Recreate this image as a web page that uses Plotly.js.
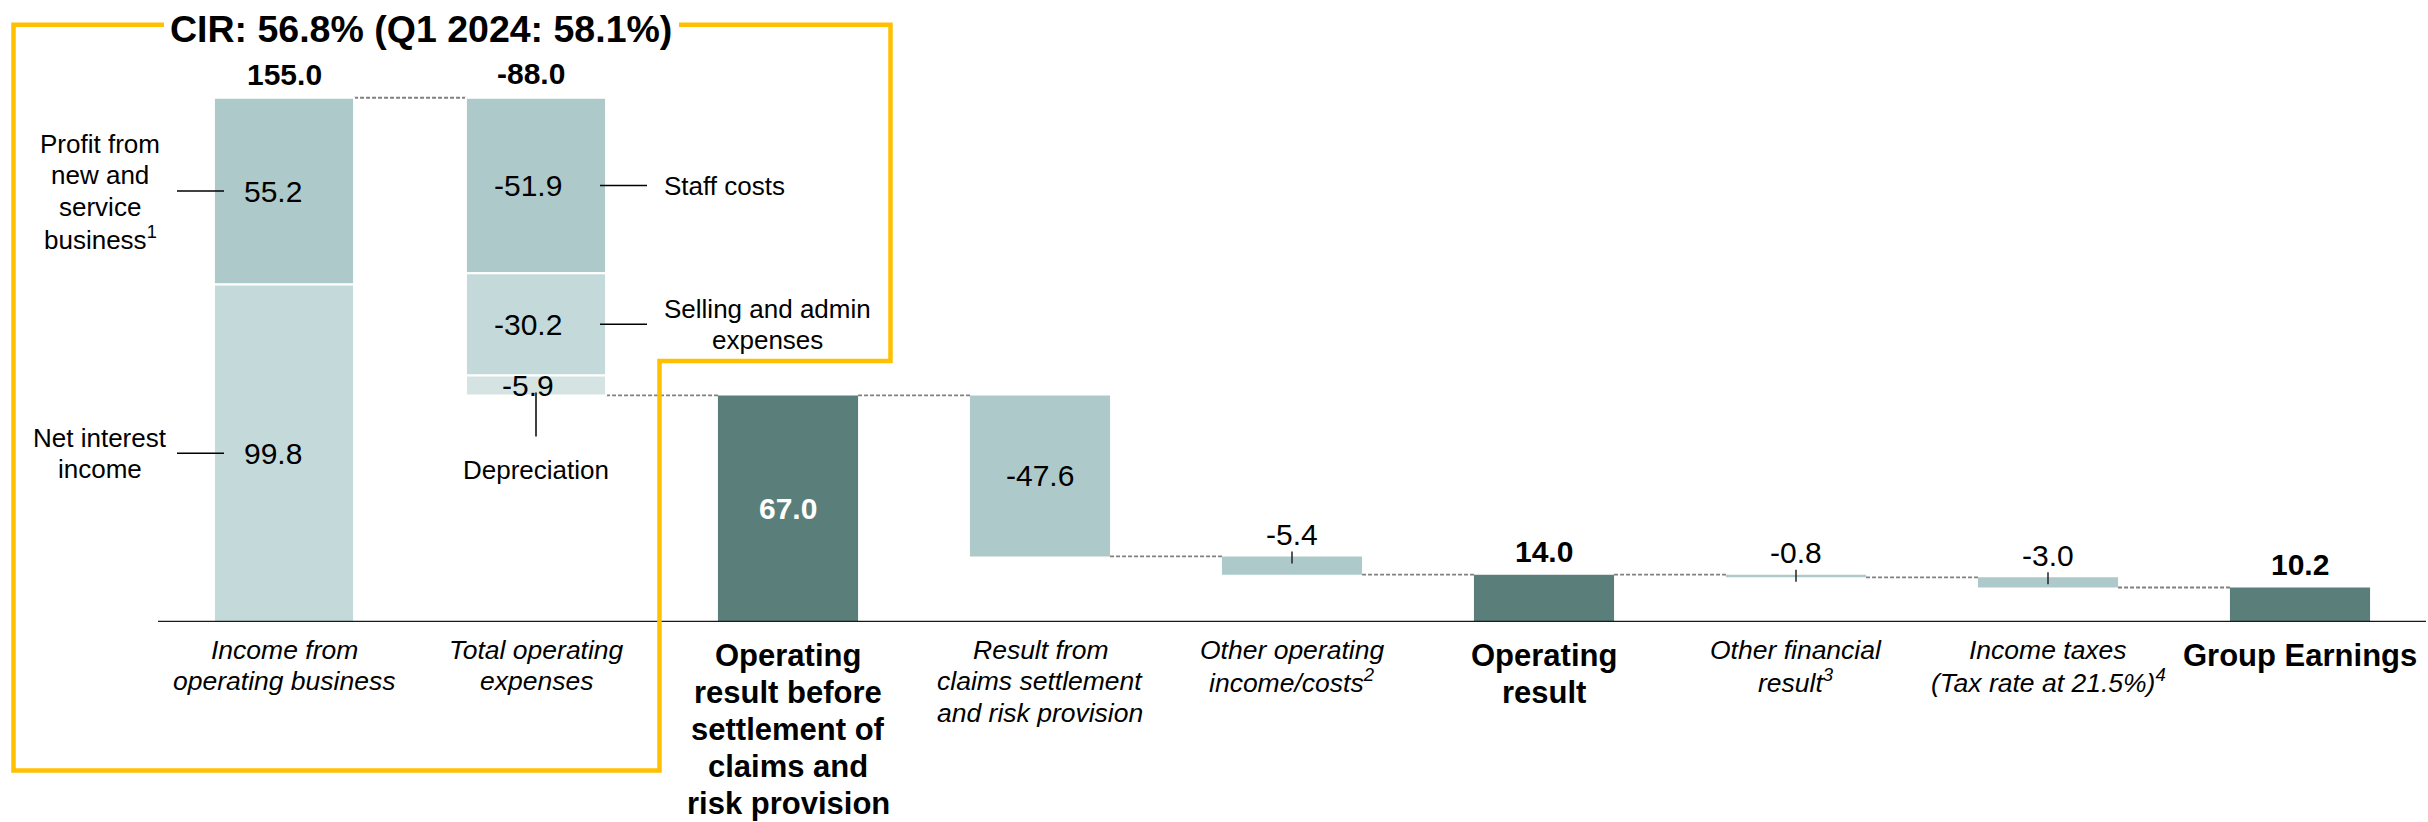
<!DOCTYPE html>
<html>
<head>
<meta charset="utf-8">
<script src="https://cdn.plot.ly/plotly-3.0.1.min.js"></script>
<style>html,body{margin:0;padding:0;background:#fff;}#chart{width:2428px;height:822px;}</style>
</head>
<body>
<div id="chart"></div>
<script>
(function () {
// ---------------- DATA ----------------
const categories = [
  'Income from<br>operating business',
  'Total operating<br>expenses',
  'Operating<br>result before<br>settlement of<br>claims and<br>risk provision',
  'Result from<br>claims settlement<br>and risk provision',
  'Other operating<br>income/costs<sup>2</sup>',
  'Operating<br>result',
  'Other financial<br>result<sup>3</sup>',
  'Income taxes<br>(Tax rate at 21.5%)<sup>4</sup>',
  'Group Earnings'
];
const stepValues = [155.0, -88.0, 67.0, -47.6, -5.4, 14.0, -0.8, -3.0, 10.2];
const stepKinds  = ['start', 'delta', 'total', 'delta', 'delta', 'total', 'delta', 'delta', 'total'];

const incomePartNames  = ['Net interest<br>income', 'Profit from<br>new and<br>service<br>business<sup>1</sup>'];
const incomePartValues = [99.8, 55.2];
const expensePartNames  = ['Staff costs', 'Selling and admin<br>expenses', 'Depreciation'];
const expensePartValues = [-51.9, -30.2, -5.9];

const cirText = 'CIR: 56.8% (Q1 2024: 58.1%)';

// ---------------- STYLE ----------------
const FONT = 'Liberation Sans, Arial, Helvetica, sans-serif';
const C_DARK = '#5a7f7a', C_MID = '#adc9c9', C_LIGHT = '#c4dada', C_LIGHTEST = '#d5e4e3';
const GOLD = '#ffc000';
const BW = 0.556;
const WIDTH = 2428, HEIGHT = 822;
const L = 158, R = 2426, T = 47, B = 622;
const YMAX = 170;
const SIDE_SIZE = 26, SIDE_LH = 31.3;
const IT_SIZE = 26.5, IT_LH = 31.3;
const BOLD_SIZE = 31, BOLD_LH = 37;
const VAL_SIZE = 30;
const px = x => (x - L) / (R - L);
const py = y => (B - y) / (B - T);
const r1 = v => Math.round(v * 10) / 10;

// ---------------- COMPUTE ----------------
const levels = [];
let running = 0;
stepValues.forEach((v, i) => {
  if (stepKinds[i] === 'delta') running = r1(running + v); else running = v;
  levels.push(running);
});

const dark = {x: [], base: [], y: []};
const mid = {x: [], base: [], y: [], lw: []};
const light = {x: [], base: [], y: []};
const lightest = {x: [], base: [], y: []};
const annotations = [];
const shapes = [];

function valueAnn(x, y, text, opts) {
  opts = opts || {};
  annotations.push(Object.assign({
    x: x, y: y, xref: 'x', yref: 'y', text: text, showarrow: false,
    xanchor: 'center', yanchor: 'middle',
    font: {family: FONT, size: VAL_SIZE, color: opts.color || '#000'}
  }, opts.extra || {}));
}

// multi-line text with controlled line spacing; mode 'center' = block centred on y, 'top' = first line at y
function multiLine(text, base, spacing, font, mode, xanchor) {
  const lines = text.split('<br>');
  const n = lines.length;
  lines.forEach((ln, k) => {
    const shift = mode === 'center' ? ((n - 1) / 2 - k) * spacing : -k * spacing;
    annotations.push(Object.assign({}, base, {
      text: ln, showarrow: false, xanchor: xanchor || 'center', yanchor: 'middle',
      yshift: (base.yshift || 0) + shift, font: font
    }));
  });
}

const sideFont = {family: FONT, size: SIDE_SIZE, color: '#000'};

// Income bar (stacked parts)
let acc = 0;
incomePartValues.forEach((v, k) => {
  const tgt = k === 0 ? light : mid;
  tgt.x.push(0); tgt.base.push(acc); tgt.y.push(v);
  if (tgt === mid) tgt.lw.push(2);
  const c = acc + v / 2;
  valueAnn(0, c, v.toFixed(1), {extra: {xshift: -11}});
  shapes.push({type: 'line', xref: 'paper', yref: 'y', x0: px(177), x1: px(224), y0: c, y1: c,
               line: {color: '#000', width: 1.5}, layer: 'above'});
  multiLine(incomePartNames[k], {xref: 'paper', yref: 'y', x: px(100), y: c}, SIDE_LH, sideFont, 'center');
  acc = r1(acc + v);
});
valueAnn(0, levels[0], '<b>' + stepValues[0].toFixed(1) + '</b>', {extra: {yshift: 23}});

// Expense bar (stacked parts)
let curTop = levels[0];
expensePartValues.forEach((v, k) => {
  const bottom = r1(curTop + v);
  const tgt = k === 0 ? mid : (k === 1 ? light : lightest);
  tgt.x.push(1); tgt.base.push(bottom); tgt.y.push(-v);
  if (tgt === mid) tgt.lw.push(2);
  const c = (curTop + bottom) / 2;
  valueAnn(1, c, v.toFixed(1), {extra: {xshift: -8}});
  if (k === 0) {
    shapes.push({type: 'line', xref: 'paper', yref: 'y', x0: px(600), x1: px(647), y0: c, y1: c,
                 line: {color: '#000', width: 1.5}, layer: 'above'});
    multiLine(expensePartNames[k], {xref: 'paper', yref: 'y', x: px(662), y: c}, SIDE_LH, sideFont, 'center', 'left');
  } else if (k === 1) {
    shapes.push({type: 'line', xref: 'paper', yref: 'y', x0: px(600), x1: px(647), y0: c, y1: c,
                 line: {color: '#000', width: 1.5}, layer: 'above'});
    multiLine(expensePartNames[k], {xref: 'paper', yref: 'y', x: px(767), y: c}, SIDE_LH, sideFont, 'center');
  } else {
    shapes.push({type: 'line', xref: 'x', yref: 'y', ysizemode: 'pixel', yanchor: bottom,
                 x0: 1, x1: 1, y0: 3, y1: -41, line: {color: '#000', width: 1.5}, layer: 'above'});
    multiLine(expensePartNames[k], {xref: 'x', yref: 'y', x: 1, y: bottom, yshift: -75}, SIDE_LH, sideFont, 'center');
  }
  curTop = bottom;
});
valueAnn(1, levels[0], '<b>' + stepValues[1].toFixed(1) + '</b>', {extra: {yshift: 24, xshift: -5}});

// Remaining steps
for (let i = 2; i < stepValues.length; i++) {
  const v = stepValues[i];
  if (stepKinds[i] === 'total') {
    dark.x.push(i); dark.base.push(0); dark.y.push(v);
    if (i === 2) {
      valueAnn(i, v / 2, '<b>' + v.toFixed(1) + '</b>', {color: '#fff'});
    } else {
      valueAnn(i, v, '<b>' + v.toFixed(1) + '</b>', {extra: {yshift: 23}});
    }
  } else {
    const before = levels[i - 1], after = levels[i];
    const lo = Math.min(before, after), hi = Math.max(before, after);
    mid.x.push(i); mid.base.push(lo); mid.y.push(r1(hi - lo)); mid.lw.push(0);
    if (i === 3) {
      valueAnn(i, (lo + hi) / 2, v.toFixed(1));
    } else {
      valueAnn(i, hi, v.toFixed(1), {extra: {yshift: 22}});
      shapes.push({type: 'line', xref: 'x', yref: 'y', ysizemode: 'pixel', yanchor: hi,
                   x0: i, x1: i, y0: 5, y1: -7, line: {color: '#222', width: 1.5}, layer: 'above'});
    }
  }
}

// connectors
for (let i = 0; i < stepValues.length - 1; i++) {
  shapes.push({type: 'line', xref: 'x', yref: 'y', x0: i + BW / 2, x1: i + 1 - BW / 2,
               y0: levels[i], y1: levels[i],
               line: {color: '#808080', width: 1.8, dash: '4px,2px'}, layer: 'below'});
}

// baseline
shapes.push({type: 'line', xref: 'paper', yref: 'y', x0: 0, x1: 1, y0: 0, y1: 0,
             line: {color: '#1a1a1a', width: 2.5}, layer: 'above'});

// CIR box
const pts = [[164, 24.7], [13.5, 24.7], [13.5, 770.5], [659.5, 770.5], [659.5, 361], [890.5, 361], [890.5, 24.7], [679, 24.7]];
shapes.push({type: 'path', xref: 'paper', yref: 'paper',
             path: pts.map((p, k) => (k ? 'L' : 'M') + px(p[0]).toFixed(5) + ',' + py(p[1]).toFixed(5)).join(' '),
             line: {color: GOLD, width: 4.5}, fillcolor: 'rgba(0,0,0,0)', layer: 'above'});
annotations.push({xref: 'paper', yref: 'paper', x: px(421), y: py(29), text: '<b>' + cirText + '</b>',
                  showarrow: false, xanchor: 'center', yanchor: 'middle',
                  font: {family: FONT, size: 37.5, color: '#000'}});

// category labels
categories.forEach((c, i) => {
  const bold = stepKinds[i] === 'total';
  const lines = c.split('<br>').map(s => bold ? '<b>' + s + '</b>' : '<i>' + s + '</i>').join('<br>');
  multiLine(lines, {xref: 'x', yref: 'paper', x: i, y: py(bold ? 655.5 : 650)},
            bold ? BOLD_LH : IT_LH,
            {family: FONT, size: bold ? BOLD_SIZE : IT_SIZE, color: '#000'}, 'top');
});

function barTrace(d, color, lw) {
  return {type: 'bar', x: d.x, y: d.y, base: d.base, width: BW,
          marker: {color: color, line: {color: '#fff', width: lw}},
          hoverinfo: 'skip', showlegend: false};
}

const data = [
  barTrace(dark, C_DARK, 0),
  barTrace(mid, C_MID, mid.lw),
  barTrace(light, C_LIGHT, 2),
  barTrace(lightest, C_LIGHTEST, 2)
];

const layout = {
  width: WIDTH, height: HEIGHT,
  margin: {l: L, r: WIDTH - R, t: T, b: HEIGHT - B, pad: 0},
  paper_bgcolor: '#fff', plot_bgcolor: '#fff',
  barmode: 'overlay',
  showlegend: false,
  xaxis: {range: [-0.5, stepValues.length - 0.5], showgrid: false, zeroline: false, showticklabels: false, ticks: '', showline: false, fixedrange: true},
  yaxis: {range: [0, YMAX], showgrid: false, zeroline: false, showticklabels: false, ticks: '', showline: false, fixedrange: true},
  shapes: shapes,
  annotations: annotations,
  font: {family: FONT}
};

Plotly.newPlot('chart', data, layout, {staticPlot: true, displayModeBar: false});
})();
</script>
</body>
</html>
